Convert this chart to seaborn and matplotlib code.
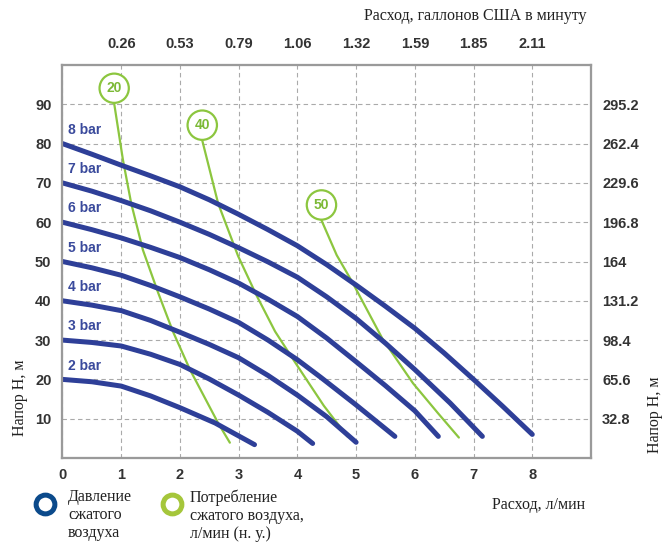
import numpy as np
import pandas as pd
import seaborn as sns
import matplotlib.pyplot as plt
from matplotlib.lines import Line2D

# pressure curves: flow (l/min) vs head (m), one per air pressure
bar_labels = ['2 bar', '3 bar', '4 bar', '5 bar', '6 bar', '7 bar', '8 bar']
q_2 = [0, 0.5, 1, 1.5, 2, 2.6, 3.27]
h_2 = [20, 19.4, 18.3, 15.8, 12.8, 8.9, 3.4]
q_3 = [0, 0.5, 1, 1.5, 2, 2.5, 3, 3.5, 4, 4.26]
h_3 = [30, 29.4, 28.5, 26.4, 23.8, 20.1, 16, 11.6, 6.8, 3.7]
q_4 = [0, 0.5, 1, 1.5, 2, 2.5, 3, 3.5, 4, 4.5, 5]
h_4 = [40, 38.9, 37.5, 35, 32, 28.9, 25.5, 21, 16, 10.5, 4]
q_5 = [0, 0.5, 1, 1.5, 2, 2.5, 3, 3.5, 4, 4.4, 5, 5.66]
h_5 = [50, 48.4, 46.5, 43.9, 41, 37.9, 34.5, 30, 25, 20.5, 13.5, 5.5]
q_6 = [0, 0.5, 1, 1.5, 2, 2.5, 3, 3.5, 4, 4.5, 5, 5.5, 6, 6.4]
h_6 = [60, 58.1, 56, 53.6, 51, 47.9, 44.5, 40.4, 36, 30.5, 24.5, 18.4, 12, 5.5]
q_7 = [0, 0.5, 1, 1.5, 2, 2.5, 3, 3.5, 4, 4.5, 5, 5.5, 6, 6.6, 7.15]
h_7 = [70, 67.9, 65.5, 62.9, 60, 56.9, 53.5, 49.9, 46, 41, 35.5, 29.2, 22.5, 14, 5.5]
q_8 = [0, 0.5, 1, 1.5, 2, 2.5, 3, 3.5, 4, 4.5, 5, 5.5, 6, 6.5, 7, 7.5, 8]
h_8 = [80, 77.3, 74.5, 71.8, 69, 65.7, 62, 58.1, 54, 49.2, 44, 38.6, 33, 26.7, 20, 13.1, 6]

# air consumption curves (l/min n.c.)
air_labels = ['20', '40', '50']
q_a20 = [0.88, 1.03, 1.17, 1.37, 1.63, 1.88, 2.17, 2.65, 2.85]
h_a20 = [90.2, 75.8, 64.8, 52.9, 42, 32.2, 22.5, 8.9, 3.9]
q_a40 = [2.38, 2.65, 2.99, 3.3, 3.62, 3.98, 4.45, 4.85]
h_a40 = [80.8, 64.8, 51.4, 41.5, 32.2, 23.9, 13.3, 5.5]
q_a50 = [4.41, 4.67, 4.93, 5.45, 5.97, 6.4, 6.75]
h_a50 = [60.5, 51.6, 44.9, 30.3, 19, 11.3, 5.2]

x_ticks = [0, 1, 2, 3, 4, 5, 6, 7, 8]
gal_ticks = [1, 2, 3, 4, 5, 6, 7, 8]
gal_labels = ['0.26', '0.53', '0.79', '1.06', '1.32', '1.59', '1.85', '2.11']
y_ticks = [10, 20, 30, 40, 50, 60, 70, 80, 90]
ft_labels = ['32.8', '65.6', '98.4', '131.2', '164', '196.8', '229.6', '262.4', '295.2']

blue = '#2e3f98'
green = '#8cc63f'
tick_col = '#333333'

pressure = pd.concat([
    pd.DataFrame({'Q': q, 'H': h, 'curve': lab})
    for q, h, lab in zip([q_2, q_3, q_4, q_5, q_6, q_7, q_8],
                         [h_2, h_3, h_4, h_5, h_6, h_7, h_8], bar_labels)
])
air = pd.concat([
    pd.DataFrame({'Q': q, 'H': h, 'curve': lab})
    for q, h, lab in zip([q_a20, q_a40, q_a50], [h_a20, h_a40, h_a50], air_labels)
])

sns.set_style('white')
plt.rcParams['font.family'] = ['Liberation Sans', 'DejaVu Sans']

W, H = 667, 542
fig = plt.figure(figsize=(W / 100, H / 100), dpi=100)
ax = fig.add_axes([62.5 / W, 1 - 458 / H, 528.5 / W, 393 / H])

ax.set_xlim(0, 9)
ax.set_ylim(0, 100)
ax.set_xticks(x_ticks)
ax.set_yticks(y_ticks)
ax.grid(True, color='#aaaaaa', linestyle=(0, (4, 3)), linewidth=0.8)
ax.set_axisbelow(True)

sns.lineplot(data=air, x='Q', y='H', units='curve', estimator=None, sort=False,
             color=green, linewidth=1.6, ax=ax)
sns.lineplot(data=pressure, x='Q', y='H', units='curve', estimator=None, sort=False,
             color=blue, linewidth=3.6, ax=ax)
for ln in ax.lines:
    ln.set_solid_capstyle('round')
    ln.set_solid_joinstyle('round')

# pressure labels above the start of each curve
for lab, df in pressure.groupby('curve'):
    ax.annotate(lab, xy=(df['Q'].iloc[0], df['H'].iloc[0]), xytext=(4, 10),
                textcoords='offset points', ha='left', va='center',
                fontsize=10, fontweight='bold', color='#3a4a9c')

# air consumption circles at top of each curve
for lab, df in air.groupby('curve'):
    ax.annotate(lab, xy=(df['Q'].iloc[0], df['H'].iloc[0]), xytext=(0, 11),
                textcoords='offset points', ha='center', va='center',
                fontsize=10, fontweight='bold', color='#7cb936',
                bbox=dict(boxstyle='circle,pad=0.5', fc='white', ec=green, lw=1.6))

ax.set_xlabel('')
ax.set_ylabel('')
ax.tick_params(length=0, labelsize=10.5, colors=tick_col)
ax.tick_params(axis='x', pad=7)
ax.tick_params(axis='y', pad=8)
for t in ax.get_xticklabels() + ax.get_yticklabels():
    t.set_fontweight('bold')

ax_top = ax.twiny()
ax_top.set_xlim(ax.get_xlim())
ax_top.set_xticks(gal_ticks)
ax_top.set_xticklabels(gal_labels, fontweight='bold')
ax_top.tick_params(length=0, labelsize=10.5, colors=tick_col, pad=10)

ax_right = ax.twinx()
ax_right.set_ylim(ax.get_ylim())
ax_right.set_yticks(y_ticks)
ax_right.set_yticklabels(ft_labels, fontweight='bold')
ax_right.tick_params(length=0, labelsize=10.5, colors=tick_col, pad=8)

for a in (ax, ax_top, ax_right):
    for s in a.spines.values():
        s.set_color('#9a9a9a')
        s.set_linewidth(1.5)

serif = ['Liberation Serif', 'DejaVu Serif']
fig.text(587 / W, 1 - 16 / H, 'Расход, галлонов США в минуту', ha='right', va='center',
         fontsize=11.5, family=serif, color='#222222')
fig.text(20 / W, 1 - 398 / H, 'Напор H, м', rotation=90, ha='center', va='center',
         fontsize=11.5, family=serif, color='#222222')
fig.text(655 / W, 1 - 415 / H, 'Напор H, м', rotation=90, ha='center', va='center',
         fontsize=11.5, family=serif, color='#222222')
fig.text(585 / W, 1 - 505 / H, 'Расход, л/мин', ha='right', va='center',
         fontsize=11.5, family=serif, color='#222222')

# legend rings
fig.add_artist(Line2D([45 / W], [1 - 504 / H], marker='o', ms=13.5, mfc='none',
                      mec='#0b4a8b', mew=3.6, transform=fig.transFigure))
fig.add_artist(Line2D([172 / W], [1 - 504 / H], marker='o', ms=13.5, mfc='none',
                      mec='#a5c63b', mew=3.6, transform=fig.transFigure))
fig.text(68 / W, 1 - 489 / H, 'Давление\nсжатого\nвоздуха', ha='left', va='top',
         fontsize=11.5, family=serif, color='#222222', linespacing=1.18)
fig.text(190 / W, 1 - 489 / H, 'Потребление\nсжатого воздуха,\nл/мин (н. у.)', ha='left',
         va='top', fontsize=11.5, family=serif, color='#222222', linespacing=1.18)

fig.savefig('out.png', dpi=100)
